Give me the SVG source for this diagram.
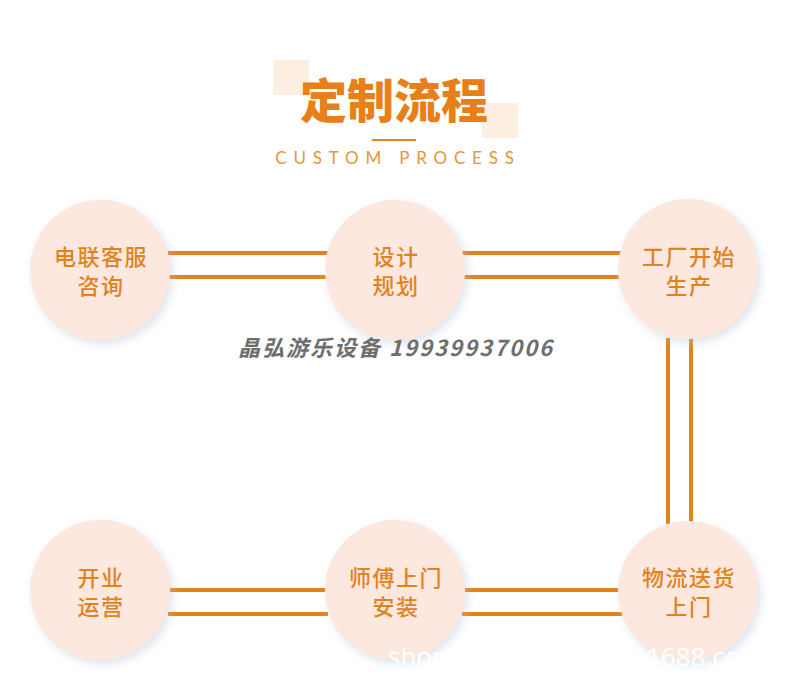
<svg xmlns="http://www.w3.org/2000/svg" width="790" height="689" viewBox="0 0 790 689">
<defs>
<filter id="sh" x="-30%" y="-30%" width="160%" height="160%">
<feDropShadow dx="3" dy="4" stdDeviation="4" flood-color="#b8c4d8" flood-opacity="0.45"/>
</filter>
</defs>
<style>
.c{fill:#fde8df;filter:url(#sh)}
.t{font-family:"Noto Sans CJK SC",sans-serif;font-size:22px;font-weight:500;letter-spacing:1.5px;fill:#e2821d;text-anchor:middle}
.ln{stroke:#e2821b;stroke-width:4;fill:none}
.wm{font-family:"Open Sans","Liberation Sans",sans-serif;font-size:26px;fill:#ffffff}
</style>
<rect width="790" height="689" fill="#ffffff"/>
<g id="title">
<rect x="273" y="60" width="36" height="35" fill="#fdeee2"/>
<rect x="482" y="103" width="36" height="35" fill="#fdeee2"/>
<text x="394" y="118" text-anchor="middle" font-family="Noto Sans CJK SC,sans-serif" font-size="47" font-weight="900" fill="#e8801a">定制流程</text>
<line x1="372" y1="140" x2="416" y2="140" stroke="#e8821a" stroke-width="2"/>
<text x="398" y="164" text-anchor="middle" font-family="Lato,'Liberation Sans',sans-serif" font-size="17" letter-spacing="6.8" fill="#e8963a">CUSTOM PROCESS</text>
</g>
<g id="connectors">
<line class="ln" x1="168" y1="253" x2="328" y2="253"/>
<line class="ln" x1="168" y1="277" x2="328" y2="277"/>
<line class="ln" x1="462" y1="253" x2="622" y2="253"/>
<line class="ln" x1="462" y1="277" x2="622" y2="277"/>
<line class="ln" x1="668" y1="338" x2="668" y2="524"/>
<line class="ln" x1="691" y1="338" x2="691" y2="524"/>
<line class="ln" x1="168" y1="590" x2="328" y2="590"/>
<line class="ln" x1="168" y1="614" x2="328" y2="614"/>
<line class="ln" x1="462" y1="590" x2="622" y2="590"/>
<line class="ln" x1="462" y1="614" x2="622" y2="614"/>
</g>
<g id="n1"><circle class="c" cx="100" cy="270" r="70"/><text class="t" x="101" y="265">电联客服</text><text class="t" x="101" y="294">咨询</text></g>
<g id="n2"><circle class="c" cx="395" cy="270" r="70"/><text class="t" x="396" y="265">设计</text><text class="t" x="396" y="294">规划</text></g>
<g id="n3"><circle class="c" cx="688" cy="269" r="70"/><text class="t" x="689" y="265">工厂开始</text><text class="t" x="689" y="294">生产</text></g>
<g id="n4"><circle class="c" cx="688" cy="591" r="70"/><text class="t" x="689" y="586">物流送货</text><text class="t" x="689" y="615">上门</text></g>
<g id="n5"><circle class="c" cx="395" cy="590" r="70"/><text class="t" x="396" y="586">师傅上门</text><text class="t" x="396" y="615">安装</text></g>
<g id="n6"><circle class="c" cx="100" cy="590" r="70"/><text class="t" x="101" y="586">开业</text><text class="t" x="101" y="615">运营</text></g>
<text x="396" y="356" text-anchor="middle" font-family="Noto Sans CJK SC,sans-serif" font-size="22" font-weight="700" font-style="italic" letter-spacing="2" fill="#6e6e6e">晶弘游乐设备 19939937006</text>
<text class="wm" x="388" y="666">shop</text>
<text class="wm" x="646" y="666">1688.co</text>
</svg>
